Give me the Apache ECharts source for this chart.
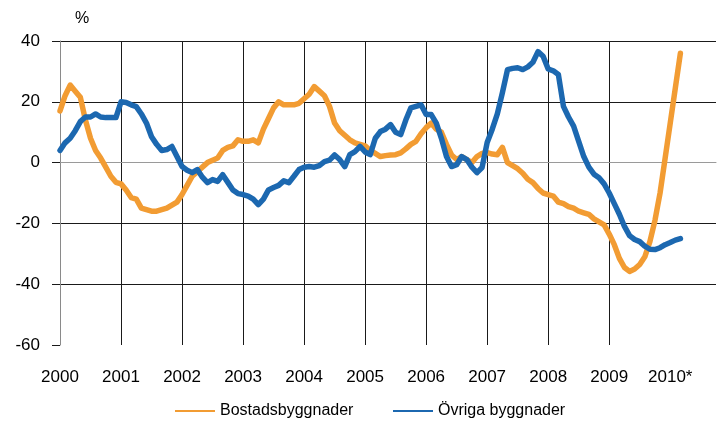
<!DOCTYPE html>
<html>
<head>
<meta charset="utf-8">
<script src="https://cdn.jsdelivr.net/npm/echarts@6/dist/echarts.min.js"></script>
<style>
html,body{margin:0;padding:0;background:#fff;}
#chart{width:718px;height:425px;}
</style>
</head>
<body>
<div id="chart"></div>
<script>
// Year tick labels (x axis)
const yearLabels = ['2000','2001','2002','2003','2004','2005','2006','2007','2008','2009','2010*'];
// Y axis tick range
const yTicks = [-60, -40, -20, 0, 20, 40];
const unitLabel = '%';
const seriesNames = ['Bostadsbyggnader', 'Övriga byggnader'];

// Monthly values, Jan 2000 onward (%)
const bostadsbyggnader = [
  17, 22, 25.5, 23.5, 21.5, 14, 8, 4, 1.5, -1.5, -4.5, -6.5,
  -7, -9, -11.5, -12, -15, -15.5, -16, -16, -15.5, -15, -14, -13,
  -10.5, -7.5, -4.5, -3, -1.5, 0, 0.8, 1.5, 4, 5, 5.5, 7.5,
  7, 7, 7.5, 6.5, 11, 14.5, 18, 20, 19, 19, 19, 19.5,
  21, 22.5, 25, 23.5, 22, 18.5, 13, 10.5, 9, 7.5, 6.5, 6,
  5.5, 4, 3, 2, 2.3, 2.5, 2.6, 3.2, 4.5, 6, 7, 9.5,
  11.5, 13, 11, 10, 6, 2.5, 1, 2, 1, 0, 2, 3,
  3.3, 2.8, 2.6, 5, 0, -1, -2, -3.5, -5.5, -6.6, -8.5, -10,
  -10.5, -11, -13, -13.5, -14.5, -15, -16, -16.5, -17, -18.5, -19.5, -20.5,
  -23.5, -27, -31.5, -34.5, -35.8, -35, -33.5, -31, -26, -19, -10, 1.5,
  13, 24.5, 36
];
const ovrigaByggnader = [
  4, 6.5, 8, 10.5, 13.5, 15, 15, 16, 15, 14.8, 14.8, 14.8,
  20, 19.8, 19, 18.4, 16, 13, 8.5, 6, 4, 4.3, 5.3, 2,
  -1.3, -2.5, -3.3, -2.3, -4.8, -6.6, -5.6, -6.2, -4, -6.5, -9, -10.2,
  -10.5, -11, -12, -13.8, -12, -9, -8.2, -7.5, -6, -6.6, -4.5, -2.3,
  -1.5, -1.3, -1.5, -1, 0.3, 0.8, 2.5, 1, -1.3, 2.6, 3.6, 5.3,
  3.5, 2.6, 8, 10.2, 11, 12.5, 10, 9.2, 14, 18, 18.5, 19,
  15.8, 15.8, 13, 8, 2, -1.3, -0.7, 2, 1, -1.5, -3.3, -1.6,
  6.6, 11, 16, 23, 30.6, 31, 31.2, 30.6, 31.5, 33, 36.5, 35,
  30.8, 30.2, 29, 18.5, 15, 12, 7, 2, -1.5, -3.8, -5, -7,
  -10, -13.5, -17, -21, -24, -25.3, -26, -27.5, -28.5, -28.6, -28, -27,
  -26.3, -25.5, -25
];

// Month categories derived from the year labels
const categories = [];
yearLabels.forEach(function (y) {
  for (let m = 1; m <= 12; m++) categories.push(y + '|' + m);
});

const chart = echarts.init(document.getElementById('chart'), null, {renderer: 'canvas'});
const FONT = 'Liberation Sans';
chart.setOption({
  animation: false,
  backgroundColor: '#ffffff',
  grid: {left: 60, right: 2, top: 41, bottom: 80, containLabel: false},
  graphic: [{
    type: 'text', left: 75, top: 11,
    style: {text: unitLabel, font: '16px "' + FONT + '"', fill: '#000'}
  }],
  legend: {
    left: 175, top: 402, padding: 0,
    icon: 'rect', itemWidth: 40, itemHeight: 2, itemGap: 13,
    data: seriesNames,
    textStyle: {fontFamily: FONT, fontSize: 16, color: '#000', width: 160, lineHeight: 18}
  },
  xAxis: {
    type: 'category',
    data: categories,
    boundaryGap: false,
    max: 129,
    axisLine: {show: true, lineStyle: {color: '#9a9a9a', width: 1}},
    axisTick: {show: false},
    axisLabel: {
      interval: 11, margin: 24, color: '#000', fontFamily: FONT, fontSize: 17,
      formatter: function (v) { const p = v.split('|'); return p[1] === '1' ? p[0] : ''; }
    },
    splitLine: {show: true, interval: 11, showMinLine: false, showMaxLine: false,
      lineStyle: {color: '#1a1a1a', width: 1}}
  },
  yAxis: {
    type: 'value',
    min: yTicks[0], max: yTicks[yTicks.length - 1], interval: 20,
    axisLine: {show: true, lineStyle: {color: '#8a8a8a', width: 1}},
    axisTick: {show: true, length: 8, lineStyle: {color: '#1a1a1a'}},
    axisLabel: {margin: 20, color: '#000', fontFamily: FONT, fontSize: 17},
    splitLine: {show: true, showMinLine: false, lineStyle: {color: '#1a1a1a', width: 1}}
  },
  series: [
    {
      name: seriesNames[0], type: 'line', data: bostadsbyggnader,
      showSymbol: false, symbol: 'none', color: '#F29C33',
      lineStyle: {width: 5.5, color: '#F29C33', join: 'round', cap: 'round'}
    },
    {
      name: seriesNames[1], type: 'line', data: ovrigaByggnader,
      showSymbol: false, symbol: 'none', color: '#1C68B0',
      lineStyle: {width: 5.5, color: '#1C68B0', join: 'round', cap: 'round'}
    }
  ]
});
</script>
</body>
</html>
